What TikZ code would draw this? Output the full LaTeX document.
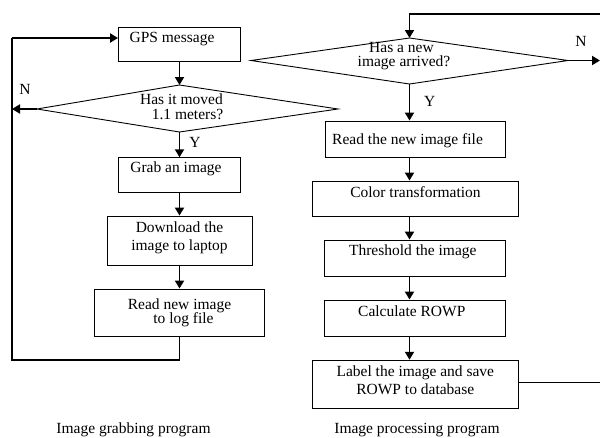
\documentclass[tikz,border=0pt]{standalone}
\usepackage{fontspec}
\setmainfont{Liberation Serif}
\usetikzlibrary{arrows.meta}
\newcommand\twoline[3]{\vtop{\baselineskip=#1\lineskiplimit=-50pt\lineskip=0pt\halign{\hfil##\hfil\cr #2\cr #3\cr}}}
\begin{document}
\begin{tikzpicture}[x=1pt, y=-1pt, font=\fontsize{15.5}{18}\selectfont,
  box/.style={draw, line width=0.9pt, inner sep=0pt, text height=12pt},
  txt/.style={anchor=base, inner sep=0pt},
  outline/.style={line width=0.9pt},
  loopthin/.style={line width=1.1pt},
  arr/.style={line width=1.9pt, -{Triangle[length=8pt,width=9pt]}}]
\useasboundingbox (0,0) rectangle (600,437);

% ---------- left program ----------
\node[box, minimum width=122pt, minimum height=34pt, text depth=15.4pt] (gps) at (179.5,44) {GPS message\kern15pt};

\coordinate (d1t) at (179.5,85);
\coordinate (d1l) at (37,109);
\coordinate (d1r) at (338,109);
\coordinate (d1b) at (179.5,132);
\draw[outline] (d1t) -- (d1r) -- (d1b) -- (d1l) -- cycle;
\node[txt] (d1txt) at (181.5,104) {\twoline{15pt}{Has it moved}{\kern12pt 1.1 meters?}};

\node[box, minimum width=122pt, minimum height=34.5pt, text depth=16.6pt] (grab) at (179.5,175) {Grab an image\kern7pt};
\node[box, minimum width=145pt, minimum height=49pt, text depth=28.4pt] (down) at (179.5,240.5) {\twoline{17.7pt}{Download the}{image to laptop}};
\node[box, minimum width=170pt, minimum height=47pt, text depth=18pt] (log) at (179.5,312.5) {\twoline{13.6pt}{Read new image}{\kern8pt to log file}};

\draw[arr] (gps) -- (d1t);
\draw[arr] (d1b) -- (grab);
\draw[arr] (grab) -- (down);
\draw[arr] (down) -- (log);

\coordinate (lc1) at (179.5,360);
\coordinate (lc2) at (12,360);
\coordinate (lc3) at (12,38);
\draw[loopthin] (log.south) -- (lc1) -- (lc2) -- (lc3);
\draw[arr] (lc3) -- (gps.west |- lc3);
\draw[arr] (d1l) -- (lc3 |- d1l);

\node[txt] (n1) at (25,94) {N};
\node[txt] (y1) at (195,147) {Y};

% ---------- right program ----------
\coordinate (d2t) at (409.5,38);
\coordinate (d2l) at (251,60.5);
\coordinate (d2r) at (568,60.5);
\coordinate (d2b) at (409.5,84);
\draw[outline] (d2t) -- (d2r) -- (d2b) -- (d2l) -- cycle;
\node[txt] (d2txt) at (404,52.8) {\twoline{13.8pt}{Has a new\kern5pt}{image arrived?}};

\node[box, minimum width=180pt, minimum height=36pt, text depth=2pt] (rd) at (415.3,139) {Read the new image file\kern15.5pt};
\node[box, minimum width=205.5pt, minimum height=35pt, text depth=14.4pt] (col) at (415.5,198.5) {Color transformation};
\node[box, minimum width=181pt, minimum height=36pt, text depth=16.6pt] (thr) at (415.3,258) {Threshold the image\kern5pt};
\node[box, minimum width=181pt, minimum height=36pt, text depth=16pt] (calc) at (415.3,318) {Calculate ROWP\kern7pt};
\node[box, minimum width=206pt, minimum height=48pt, text depth=27pt] (lab) at (415.3,384.2) {\twoline{17.3pt}{Label the image and save}{ROWP to database}};

\coordinate (rt1) at (600,14);
\coordinate (rt2) at (409.5,14);
\draw[arr] (rt1) -- (rt2) -- (d2t);
\coordinate (rn) at (600,60.5);
\draw[arr] (d2r) -- (rn);
\draw[arr] (d2b) -- (rd.north -| d2b);
\draw[arr] (rd.south -| d2b) -- (col.north -| d2b);
\draw[arr] (col.south -| d2b) -- (thr.north -| d2b);
\draw[arr] (thr.south -| d2b) -- (calc.north -| d2b);
\draw[arr] (calc.south -| d2b) -- (lab.north -| d2b);
\coordinate (rl) at (600,382.3);
\draw[loopthin] (lab.east |- rl) -- (rl);

\node[txt] (n2) at (581,46) {N};
\node[txt] (y2) at (429.7,106.7) {Y};

% ---------- captions ----------
\node[txt] (cap1) at (133.5,433.3) {Image grabbing program};
\node[txt] (cap2) at (417,433.3) {Image processing program};
\end{tikzpicture}
\end{document}
